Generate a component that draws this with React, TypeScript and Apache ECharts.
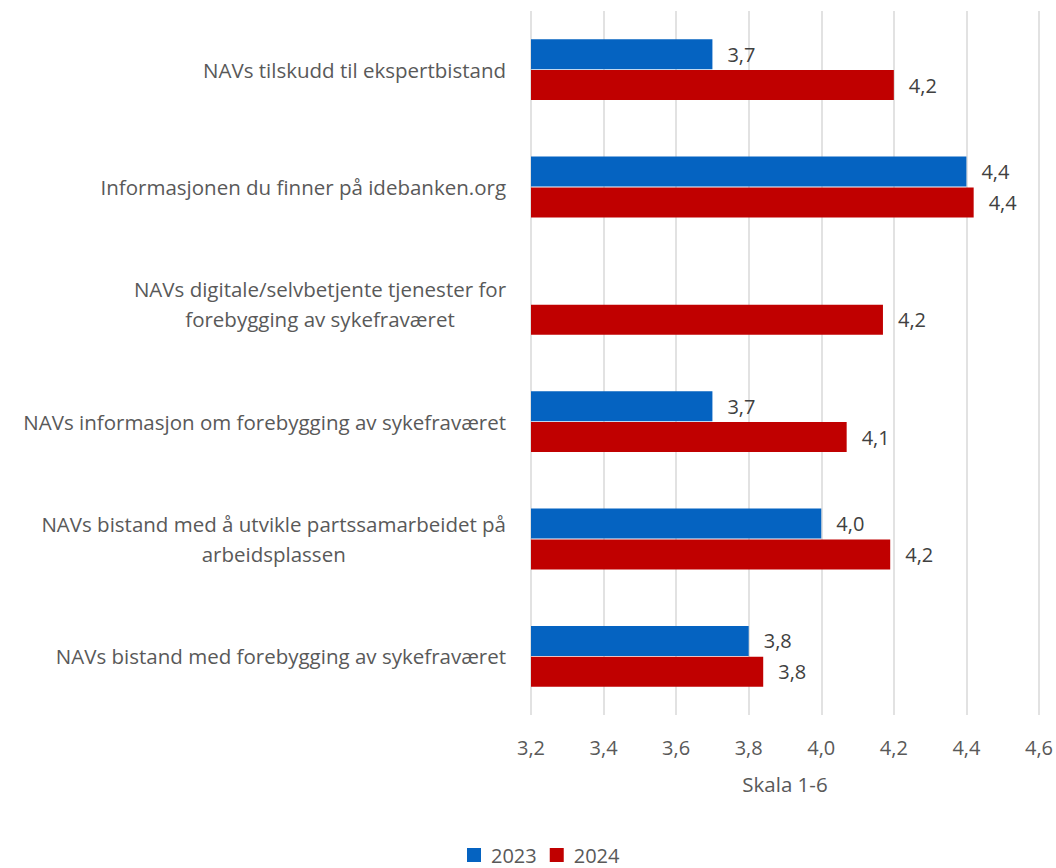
import React, { useEffect, useRef } from "react";
import * as echarts from "echarts";

const categories = [
  "NAVs tilskudd til ekspertbistand",
  "Informasjonen du finner på idebanken.org",
  "NAVs digitale/selvbetjente tjenester for\nforebygging av sykefraværet",
  "NAVs informasjon om forebygging av sykefraværet",
  "NAVs bistand med å utvikle partssamarbeidet på\narbeidsplassen",
  "NAVs bistand med forebygging av sykefraværet",
];
const values2023: (number | null)[] = [3.7, 4.4, null, 3.7, 4.0, 3.8];
const values2024: number[] = [4.2, 4.42, 4.17, 4.07, 4.19, 3.84];
const seriesNames = ["2023", "2024"];
const xMin = 3.2;
const xMax = 4.6;
const xStep = 0.2;

const FONT = "Open Sans";
const FS_CAT = 20.5;
const FS = 20;
const fmt = (v: number) => v.toFixed(1).replace(".", ",");

export default function App() {
  const ref = useRef<HTMLDivElement>(null);
  useEffect(() => {
    document.body.style.margin = "0";
    if (!ref.current) return;
    const chart = echarts.init(ref.current, undefined, { renderer: "svg" });
    const labelCfg = {
      show: true,
      position: "right" as const,
      distance: 15,
      color: "#404040",
      fontSize: FS,
      fontFamily: FONT,
      formatter: (p: any) => fmt(p.value),
    };
    chart.setOption({
      animation: false,
      textStyle: { fontFamily: FONT },
      grid: { left: 531, right: 16, top: 11, bottom: 153, containLabel: false },
      legend: {
        data: seriesNames,
        top: 845,
        left: 467,
        padding: 0,
        itemWidth: 14,
        itemHeight: 14,
        itemGap: 13,
        icon: "rect",
        textStyle: {
          fontSize: FS,
          color: "#595959",
          fontFamily: FONT,
          padding: [0, 0, 0, 5],
        },
      },
      xAxis: {
        type: "value",
        min: xMin,
        max: xMax,
        interval: xStep,
        axisLine: { show: false },
        axisTick: { show: false },
        splitLine: { show: true, lineStyle: { color: "#D9D9D9", width: 1.5 } },
        axisLabel: {
          color: "#595959",
          fontSize: FS,
          fontFamily: FONT,
          margin: 22,
          formatter: (v: number) => fmt(v),
        },
        name: "Skala 1-6",
        nameLocation: "middle",
        nameGap: 58,
        nameTextStyle: { color: "#595959", fontSize: FS_CAT, fontFamily: FONT },
      },
      yAxis: {
        type: "category",
        data: categories,
        inverse: true,
        axisLine: { show: false },
        axisTick: { show: false },
        axisLabel: {
          margin: 25,
          color: "#595959",
          fontSize: FS_CAT,
          fontFamily: FONT,
          lineHeight: 30,
          formatter: (v: string) =>
            v
              .split("\n")
              .map((l) => `{c|${l}}`)
              .join("\n"),
          rich: {
            c: {
              align: "center",
              color: "#595959",
              fontSize: FS_CAT,
              fontFamily: FONT,
              lineHeight: 30,
            },
          },
        },
      },
      series: [
        {
          name: seriesNames[0],
          type: "bar",
          data: values2023,
          barWidth: 30,
          barGap: "3%",
          itemStyle: { color: "#0563C1" },
          label: labelCfg,
        },
        {
          name: seriesNames[1],
          type: "bar",
          data: values2024,
          barWidth: 30,
          barGap: "3%",
          itemStyle: { color: "#C00000" },
          label: labelCfg,
        },
      ],
    });
    return () => chart.dispose();
  }, []);
  return <div ref={ref} style={{ width: 1056, height: 868 }} />;
}
